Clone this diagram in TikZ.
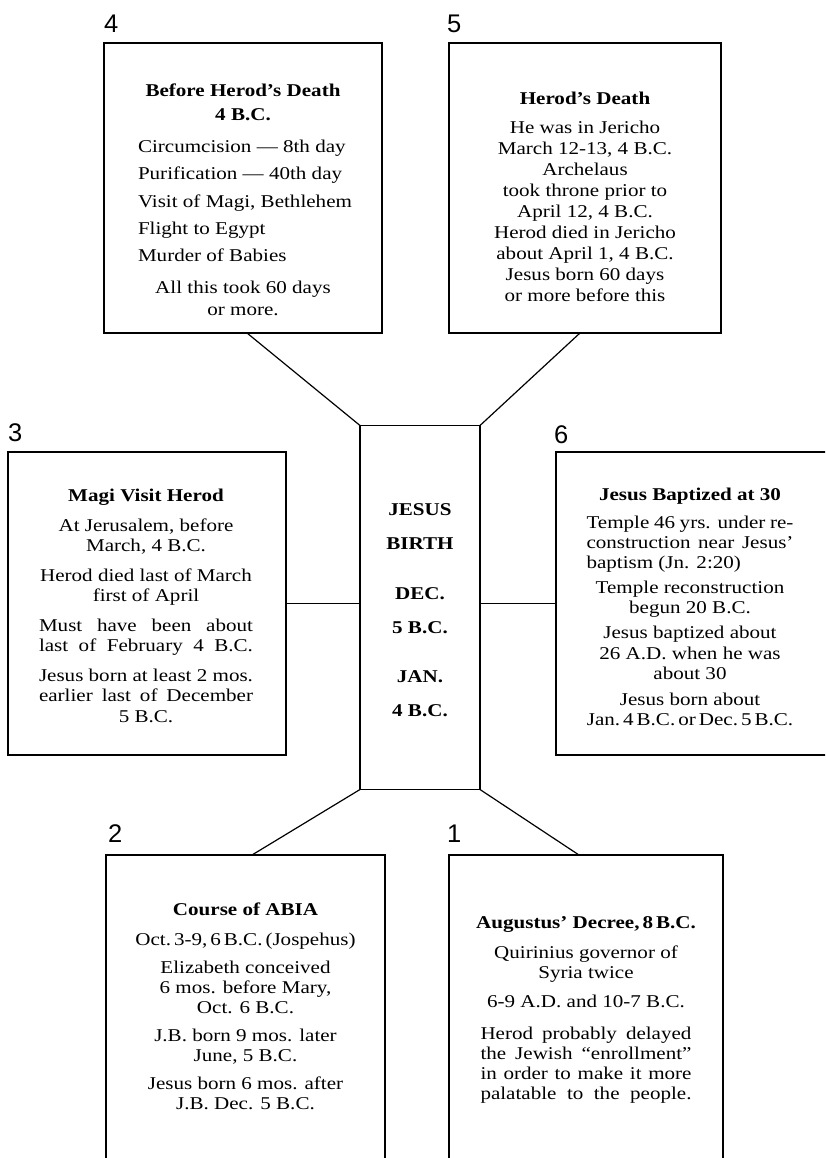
\documentclass[tikz,border=0pt]{standalone}
\usepackage{fontspec}
\setmainfont{Liberation Serif}[FakeStretch=1.17]
\newfontfamily\labelfont{Liberation Sans}
\setlength{\tabcolsep}{0pt}
\newcommand{\jline}[2]{\makebox[#1pt][s]{#2}}
\newcommand{\lline}[2]{\makebox[#1pt][l]{#2}}
\begin{document}
\begin{tikzpicture}[x=1pt,y=-1pt,
  box/.style={draw=black, line width=1.2pt, inner sep=0pt, outer sep=0pt, anchor=north west},
  conn/.style={draw=black, line width=1.2pt},
  txt/.style={inner sep=0pt, anchor=base, font=\fontsize{18}{20}\selectfont},
  txtw/.style={inner sep=0pt, anchor=base, font=\fontsize{18}{21}\selectfont},
  num/.style={inner sep=0pt, anchor=base west, font=\labelfont\fontsize{25.5}{26}\selectfont}]
\useasboundingbox (0,0) rectangle (825,1158);
\fill[white] (0,0) rectangle (825,1158);
\clip (0,0) rectangle (825,1158);

% boxes
\node[box, minimum width=278pt, minimum height=290pt] (b4) at (104,43) {};
\node[box, minimum width=272pt, minimum height=290pt] (b5) at (449,43) {};
\node[box, minimum width=278pt, minimum height=303pt] (b3) at (8,452) {};
\node[box, minimum width=120pt, minimum height=364pt] (c) at (360,425.5) {};
\node[box, minimum width=290pt, minimum height=303pt] (b6) at (556,452) {};
\node[box, minimum width=279pt, minimum height=330pt] (b2) at (106,855) {};
\node[box, minimum width=274pt, minimum height=330pt] (b1) at (449,855) {};

% connectors
\draw[conn] ([xshift=4pt]b4.south) -- (c.north west);
\draw[conn] ([xshift=-5pt]b5.south) -- (c.north east);
\draw[conn] (b3.east) -- (b3.east -| c.west);
\draw[conn] (c.east |- b6.west) -- (b6.west);
\draw[conn] (c.south west) -- ([xshift=6.5pt]b2.north);
\draw[conn] (c.south east) -- ([xshift=-7pt]b1.north);

% numbers
\node[num] (n4) at (104,33) {4};
\node[num] (n5) at (447,33) {5};
\node[num] (n3) at (8,441) {3};
\node[num] (n6) at (554,443) {6};
\node[num] (n2) at (108,842) {2};
\node[num] (n1) at (447,842) {1};

% box 4
\node[txtw] (t4) at (243,96.7) {\begin{tabular}[t]{c}
\textbf{Before Herod's Death}\\[3pt]
\textbf{4 B.C.}\\[11pt]
\lline{210}{Circumcision --- 8th day}\\[6.3pt]
\lline{210}{Purification --- 40th day}\\[6.3pt]
\lline{210}{Visit of Magi, Bethlehem}\\[6.3pt]
\lline{210}{Flight to Egypt}\\[6.3pt]
\lline{210}{Murder of Babies}\\[10.5pt]
All this took 60 days\\[0.7pt]
or more.
\end{tabular}};

% box 5
\node[txtw] (t5) at (585,105) {\begin{tabular}[t]{c}
\textbf{Herod's Death}\\[7.3pt]
He was in Jericho\\
March 12-13, 4 B.C.\\
Archelaus\\
took throne prior to\\
April 12, 4 B.C.\\
Herod died in Jericho\\
about April 1, 4 B.C.\\
Jesus born 60 days\\
or more before this
\end{tabular}};

% box 3
\node[txt] (t3) at (146,501.7) {\begin{tabular}[t]{c}
\textbf{Magi Visit Herod}\\[10pt]
At Jerusalem, before\\
March, 4 B.C.\\[10pt]
Herod died last of March\\
first of April\\[10pt]
\jline{214}{Must have been about}\\
\jline{214}{last of February 4 B.C.}\\[9.3pt]
\jline{214}{Jesus born at least 2 mos.}\\
\jline{214}{earlier last of December}\\[1pt]
5 B.C.
\end{tabular}};

% center
\node[txtw] (tc) at (420,515) {\begin{tabular}[t]{c}
\textbf{JESUS}\\[13.3pt]
\textbf{BIRTH}\\[28.7pt]
\textbf{DEC.}\\[13.3pt]
\textbf{5 B.C.}\\[28.4pt]
\textbf{JAN.}\\[13pt]
\textbf{4 B.C.}
\end{tabular}};

% box 6
\node[txt] (t6) at (690,500) {\begin{tabular}[t]{c}
\textbf{Jesus Baptized at 30}\\[8.3pt]
\jline{207}{Temple 46 yrs. under re-}\\
\jline{207}{construction near Jesus'}\\
\lline{207}{baptism (Jn. 2:20)}\\[5pt]
Temple reconstruction\\
begun 20 B.C.\\[5pt]
Jesus baptized about\\[1pt]
26 A.D. when he was\\
about 30\\[5.7pt]
Jesus born about\\
Jan.\,4\,B.C.\,or\,Dec.\,5\,B.C.
\end{tabular}};

% box 2
\node[txt] (t2) at (245.5,915) {\begin{tabular}[t]{c}
\textbf{Course of ABIA}\\[10.7pt]
Oct.\,3-9,\,6\,B.C.\,(Jospehus)\\[7.6pt]
Elizabeth conceived\\
6 mos. before Mary,\\
Oct. 6 B.C.\\[8.4pt]
J.B. born 9 mos. later\\
June, 5 B.C.\\[7.6pt]
Jesus born 6 mos. after\\
J.B. Dec. 5 B.C.
\end{tabular}};

% box 1
\node[txt] (t1) at (586,928.3) {\begin{tabular}[t]{c}
\textbf{Augustus' Decree,\,8\,B.C.}\\[10pt]
Quirinius governor of\\
Syria twice\\[8.7pt]
6-9 A.D. and 10-7 B.C.\\[12.3pt]
\jline{211}{Herod probably delayed}\\
\jline{211}{the Jewish ``enrollment''}\\
\jline{211}{in order to make it more}\\
\jline{211}{palatable to the people.}
\end{tabular}};
\end{tikzpicture}
\end{document}
